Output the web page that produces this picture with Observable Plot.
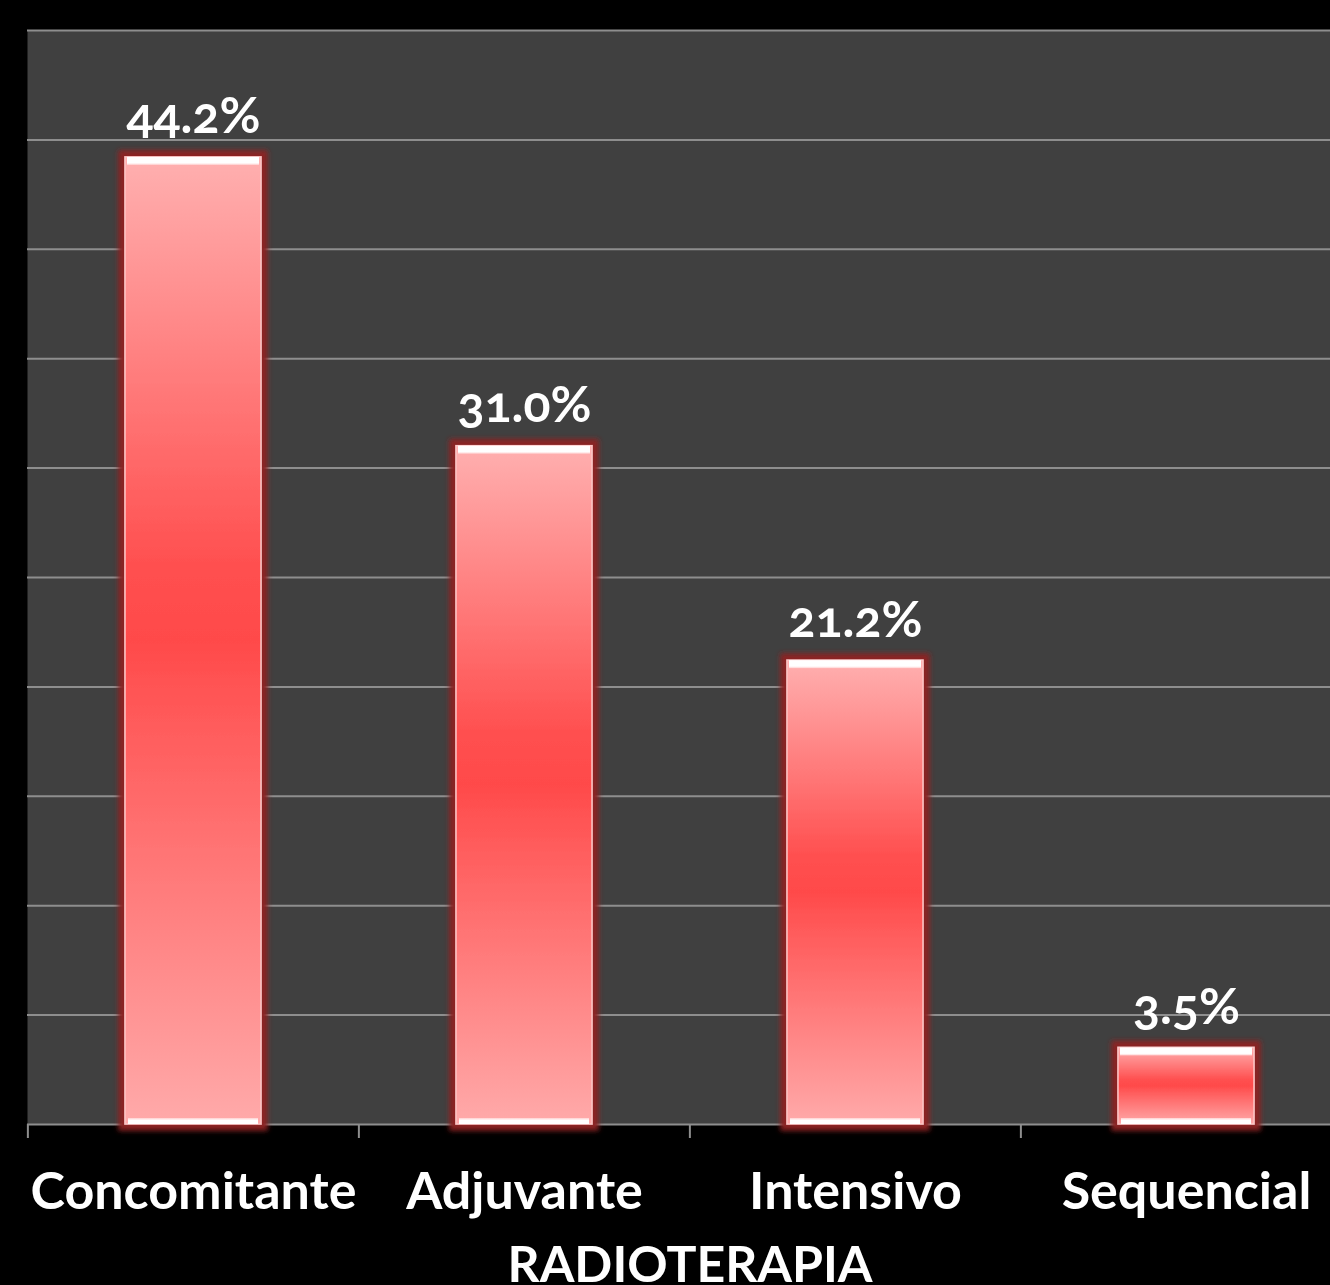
<!DOCTYPE html>
<html>
<head>
<meta charset="utf-8">
<script src="https://cdn.jsdelivr.net/npm/d3@7"></script>
<script src="https://cdn.jsdelivr.net/npm/@observablehq/plot@0.6"></script>
<style>
  html, body { margin: 0; padding: 0; background: #000; overflow: hidden; }
  #chart svg { display: block; background: #000; }
  .glowbars rect { filter: url(#glow); }
  .vlabels text { font-variant-numeric: oldstyle-nums; }
</style>
</head>
<body>
<div id="chart"></div>
<script>
const categories = ["Concomitante", "Adjuvante", "Intensivo", "Sequencial"];
const values = [44.2, 31.0, 21.2, 3.5];
const valueLabels = ["44.2%", "31.0%", "21.2%", "3.5%"];
const gridTicks = [0, 5, 10, 15, 20, 25, 30, 35, 40, 45, 50];
const axisTitle = "RADIOTERAPIA";

const data = categories.map((c, i) => ({cat: c, value: values[i], label: valueLabels[i]}));

const width = 1330, height = 1285;
const marginLeft = 27, marginRight = -22, marginTop = 30, marginBottom = 161;
const step = (width - marginRight - marginLeft) / categories.length;

function defs() {
  const ns = "http://www.w3.org/2000/svg";
  const d = document.createElementNS(ns, "defs");
  d.innerHTML = `
    <linearGradient id="barGrad" x1="0" y1="0" x2="0" y2="1">
      <stop offset="0" stop-color="#ffb0b0"/>
      <stop offset="0.42" stop-color="#ff5050"/>
      <stop offset="0.5" stop-color="#ff4a4a"/>
      <stop offset="0.58" stop-color="#ff5a5a"/>
      <stop offset="1" stop-color="#ffaaaa"/>
    </linearGradient>
    <linearGradient id="topGrad" x1="0" y1="0" x2="0" y2="1">
      <stop offset="0" stop-color="#ffffff"/>
      <stop offset="0.75" stop-color="#ffffff"/>
      <stop offset="1" stop-color="#ffd0d0"/>
    </linearGradient>
    <linearGradient id="botGrad" x1="0" y1="0" x2="0" y2="1">
      <stop offset="0" stop-color="#ffd0d0"/>
      <stop offset="0.4" stop-color="#ffffff"/>
      <stop offset="1" stop-color="#ffffff"/>
    </linearGradient>
    <filter id="glow" x="-30%" y="-30%" width="160%" height="160%">
      <feMorphology in="SourceAlpha" operator="dilate" radius="6" result="dil"/>
      <feGaussianBlur in="dil" stdDeviation="2.5" result="blur"/>
      <feFlood flood-color="#8b2323" result="col"/>
      <feComposite in="col" in2="blur" operator="in" result="glowc"/>
      <feMerge><feMergeNode in="glowc"/><feMergeNode in="SourceGraphic"/></feMerge>
    </filter>`;
  return d;
}

const chart = Plot.plot({
  width, height, marginLeft, marginRight, marginTop, marginBottom,
  style: {background: "#000", fontFamily: "Lato, 'Open Sans', sans-serif"},
  x: {domain: categories, paddingInner: 0.59, paddingOuter: 0.295, axis: null},
  y: {domain: [0, 50], axis: null},
  marks: [
    defs,
    Plot.frame({fill: "#404040", stroke: null}),
    Plot.gridY(gridTicks, {stroke: "#8e8e8e", strokeOpacity: 1, strokeWidth: 2}),
    Plot.barY(data, {x: "cat", y: "value", fill: "url(#barGrad)", stroke: "#ffc4c4", strokeWidth: 1.5, className: "glowbars"}),
    Plot.barY(data, {x: "cat", y1: "value", y2: "value", insetBottom: -8, insetLeft: 2, insetRight: 2, fill: "url(#topGrad)"}),
    Plot.barY(data, {x: "cat", y1: 0, y2: 0, insetTop: -6, insetLeft: 3, insetRight: 3, fill: "url(#botGrad)"}),
    Plot.ruleX(categories, {x: d => d, y1: 0, y2: 0, dx: -step / 2, insetBottom: -14, stroke: "#8e8e8e", strokeWidth: 2}),
    Plot.text(data, {x: "cat", y: "value", text: "label", dy: -40, fill: "#fff", fontSize: 50, fontWeight: "bold", lineAnchor: "middle", className: "vlabels"}),
    Plot.text(categories, {x: d => d, frameAnchor: "bottom", dy: 68, text: d => d, fill: "#fff", fontSize: 52, fontWeight: "bold", lineAnchor: "middle"}),
    Plot.text([axisTitle], {frameAnchor: "bottom", dy: 141, text: d => d, fill: "#fff", fontSize: 50, fontWeight: "bold", lineAnchor: "middle"})
  ]
});
document.getElementById("chart").appendChild(chart);
</script>
</body>
</html>
